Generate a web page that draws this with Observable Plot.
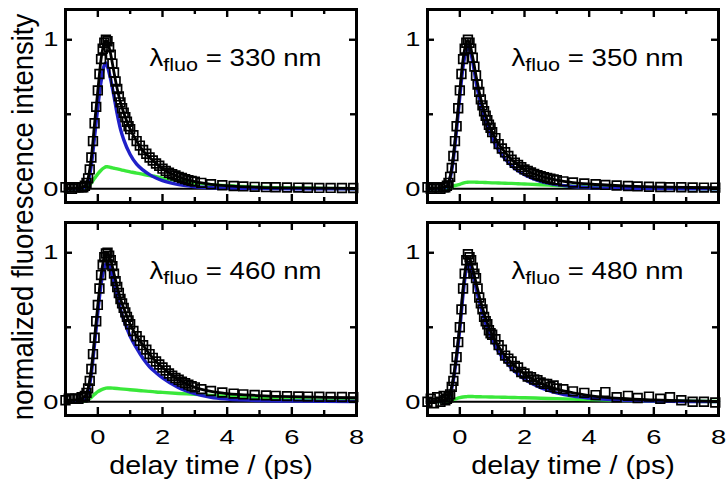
<!DOCTYPE html>
<html><head><meta charset="utf-8">
<script src="https://cdn.jsdelivr.net/npm/d3@7"></script>
<script src="https://cdn.jsdelivr.net/npm/@observablehq/plot@0.6"></script>
<style>
body{margin:0;background:#fff;}
#fig{position:relative;width:727px;height:486px;overflow:hidden;}
#fig svg{position:absolute;}
</style></head><body><div id="fig"></div>
<script>
// ---- data ----
const T = [
-1.0,-0.9,-0.8,-0.7,-0.6,-0.5,-0.45,-0.4,-0.35,-0.3,
-0.25,-0.2,-0.15,-0.1,-0.05,0,0.05,0.1,0.15,0.2,
0.25,0.3,0.35,0.4,0.45,0.5,0.55,0.6,0.65,0.7,
0.75,0.8,0.85,0.9,0.95,1.0,1.1,1.2,1.3,1.4,
1.5,1.6,1.7,1.8,1.9,2.0,2.1,2.2,2.3,2.4,
2.5,2.6,2.7,2.8,2.9,3.0,3.2,3.5,3.85,4.2,
4.5,4.85,5.2,5.5,5.85,6.2,6.5,6.85,7.2,7.55,
7.9];
const data330 = [
0.01,0.01,0.0,0.01,0.01,0.01,0.01,0.02,0.04,0.07,
0.13,0.21,0.32,0.44,0.55,0.66,0.77,0.87,0.94,0.98,
1.0,0.99,0.95,0.90,0.84,0.78,0.72,0.67,0.62,0.58,
0.54,0.51,0.48,0.45,0.42,0.40,0.36,0.32,0.29,0.26,
0.235,0.21,0.19,0.17,0.155,0.135,0.12,0.108,0.098,0.089,
0.08,0.072,0.065,0.058,0.053,0.048,0.04,0.031,0.024,0.019,
0.016,0.013,0.011,0.01,0.009,0.008,0.007,0.006,0.006,0.005,
0.005];
const data350 = [
0.01,0.0,0.01,0.01,0.0,0.01,0.01,0.02,0.04,0.08,
0.14,0.22,0.32,0.42,0.54,0.66,0.77,0.87,0.94,0.98,
1.0,0.98,0.94,0.88,0.82,0.76,0.70,0.65,0.60,0.56,
0.52,0.49,0.46,0.43,0.41,0.38,0.34,0.30,0.27,0.245,
0.22,0.195,0.175,0.16,0.145,0.13,0.12,0.11,0.10,0.092,
0.085,0.078,0.072,0.067,0.062,0.058,0.05,0.042,0.036,0.03,
0.026,0.022,0.019,0.016,0.014,0.012,0.011,0.01,0.009,0.008,
0.008];
const data460 = [
0.01,0.02,0.02,0.02,0.02,0.03,0.03,0.04,0.06,0.09,
0.14,0.22,0.32,0.43,0.54,0.65,0.76,0.85,0.92,0.97,
0.995,1.0,0.98,0.95,0.91,0.86,0.81,0.77,0.73,0.69,
0.66,0.63,0.60,0.57,0.545,0.52,0.475,0.44,0.41,0.38,
0.35,0.32,0.295,0.27,0.25,0.23,0.21,0.19,0.175,0.16,
0.148,0.135,0.125,0.115,0.105,0.097,0.085,0.072,0.062,0.055,
0.05,0.046,0.043,0.04,0.038,0.036,0.035,0.034,0.033,0.032,
0.031];
const data480 = [
0.0,0.02,-0.01,0.03,0.0,0.04,0.01,0.02,0.03,0.05,
0.1,0.14,0.22,0.3,0.4,0.5,0.62,0.76,0.86,0.95,
0.99,0.97,0.95,0.9,0.86,0.83,0.76,0.7,0.66,0.62,
0.57,0.54,0.52,0.48,0.46,0.45,0.42,0.38,0.35,0.31,
0.29,0.27,0.24,0.23,0.2,0.19,0.17,0.165,0.15,0.145,
0.13,0.12,0.12,0.1,0.11,0.09,0.085,0.07,0.06,0.045,
0.065,0.03,0.04,0.025,0.035,0.02,0.03,0.01,0.0,0.0,
-0.005];

const F = [
-1,-0.6,-0.5,-0.4,-0.3,-0.2,-0.1,0,0.1,0.2,
0.25,0.3,0.4,0.5,0.6,0.7,0.8,1.0,1.2,1.4,
1.6,1.8,2.0,2.5,3.0,3.5,4.0,5.0,6.0,7.0,
8.0];
const fit330 = [0.005,0.005,0.008,0.02,0.07,0.21,0.44,0.66,0.87,0.98,
0.995,0.985,0.9,0.78,0.67,0.58,0.51,0.40,0.32,0.255,
0.21,0.17,0.135,0.08,0.048,0.03,0.02,0.01,0.006,0.004,
0.003];
const blue330 = [0,0,0.003,0.012,0.05,0.16,0.35,0.55,0.72,0.83,
0.845,0.82,0.73,0.62,0.5,0.4,0.33,0.23,0.165,0.125,
0.095,0.072,0.055,0.028,0.014,0.007,0.004,0.001,0,0,
0];
const green330 = [0,0,0.001,0.004,0.015,0.04,0.07,0.1,0.125,0.142,
0.148,0.148,0.143,0.138,0.133,0.128,0.123,0.114,0.105,0.097,
0.089,0.082,0.072,0.055,0.04,0.028,0.02,0.01,0.005,0.003,
0.001];
const fit350 = [0.005,0.005,0.01,0.02,0.08,0.22,0.43,0.66,0.87,0.98,
0.995,0.98,0.88,0.76,0.65,0.56,0.49,0.38,0.30,0.245,
0.195,0.16,0.13,0.085,0.058,0.042,0.032,0.02,0.013,0.009,
0.007];
const blue350 = [0,0.003,0.006,0.015,0.07,0.2,0.4,0.62,0.82,0.93,
0.955,0.94,0.85,0.72,0.61,0.52,0.45,0.34,0.26,0.2,
0.155,0.12,0.095,0.05,0.028,0.015,0.008,0.003,0.001,0,
0];
const green350 = [0,0,0.001,0.004,0.01,0.018,0.024,0.03,0.038,0.043,
0.044,0.045,0.045,0.044,0.043,0.043,0.042,0.04,0.039,0.037,
0.036,0.034,0.032,0.027,0.022,0.017,0.013,0.007,0.003,0.001,
0];
const fit460 = [0.01,0.015,0.02,0.04,0.09,0.22,0.43,0.65,0.85,0.97,
0.99,0.995,0.95,0.86,0.77,0.69,0.63,0.52,0.44,0.38,
0.32,0.27,0.23,0.148,0.097,0.07,0.055,0.042,0.034,0.03,
0.027];
const blue460 = [0,0.003,0.008,0.025,0.07,0.19,0.39,0.6,0.79,0.9,
0.925,0.93,0.88,0.79,0.7,0.62,0.55,0.44,0.36,0.29,
0.235,0.195,0.16,0.095,0.055,0.03,0.018,0.008,0.005,0.003,
0.002];
const green460 = [0,0,0.002,0.006,0.015,0.03,0.05,0.068,0.08,0.089,
0.092,0.093,0.093,0.091,0.089,0.087,0.085,0.081,0.077,0.073,
0.07,0.066,0.063,0.056,0.05,0.043,0.037,0.025,0.016,0.01,
0.006];
const fit480 = [0.0,0.005,0.008,0.02,0.06,0.16,0.32,0.52,0.76,0.93,
0.965,0.96,0.89,0.8,0.71,0.63,0.56,0.45,0.37,0.31,
0.26,0.22,0.185,0.125,0.085,0.06,0.042,0.022,0.012,0.006,
0.003];
const blue480 = [0,0.004,0.007,0.017,0.05,0.145,0.3,0.49,0.72,0.895,
0.93,0.925,0.855,0.765,0.675,0.595,0.525,0.415,0.335,0.275,
0.225,0.185,0.152,0.095,0.06,0.038,0.025,0.011,0.005,0.002,
0.001];
const green480 = [0,0,0.001,0.003,0.008,0.015,0.022,0.028,0.032,0.034,
0.035,0.035,0.035,0.034,0.034,0.033,0.033,0.032,0.031,0.03,
0.029,0.028,0.027,0.024,0.021,0.018,0.015,0.01,0.006,0.004,
0.002];

const wavelengths = ["330", "350", "460", "480"];
const xMajor = [0, 2, 4, 6, 8];
const xMinor = [1, 3, 5, 7];
const yMajor = [0, 1];
const yMinor = [0.5];
const xTitle = "delay time / (ps)";
const yTitle = "normalized fluorescence intensity";

// ---- drawing ----
const FONT = "'Liberation Sans', Arial, Helvetica, sans-serif";
const BLUE = "#2020c8";
const GREEN = "#3ae83a";
const fig = document.getElementById("fig");

// widen glyphs horizontally about each text's own anchor (the reference text is wide)
function stretch(el, sx) {
  const x = +el.getAttribute("x") || 0;
  const tr = el.getAttribute("transform") || "";
  if (x) el.removeAttribute("x");
  el.setAttribute("transform", `${tr} translate(${x},0) scale(${sx},1)`);
}

function drawPanel(p) {
  const fw = p.width - p.ml - p.mr, fh = p.height - p.mt - p.mb;
  const pts = T.map((x, i) => ({x, y: p.data[i]}));
  const curve = arr => F.map((x, i) => ({x, y: arr[i]}));
  const tick = {stroke: "black", strokeWidth: 2.4};
  const svg = Plot.plot({
    width: p.width, height: p.height,
    marginLeft: p.ml, marginRight: p.mr, marginTop: p.mt, marginBottom: p.mb,
    style: {fontFamily: FONT, fontSize: "21px", color: "black", background: "transparent", overflow: "visible"},
    x: {domain: [-1, 8], ticks: xMajor, tickSize: 0, tickPadding: 14, tickFormat: d => String(d), label: null, axis: p.bottom ? "bottom" : null},
    y: {domain: [-0.092, 1.203], ticks: yMajor, tickSize: 0, tickPadding: 7, tickFormat: d => String(d), label: null, axis: "left"},
    marks: [
      Plot.ruleY([0], {stroke: "black", strokeWidth: 2}),
      Plot.line(curve(p.green), {x: "x", y: "y", stroke: GREEN, strokeWidth: 3.4, curve: "monotone-x"}),
      Plot.line(curve(p.blue), {x: "x", y: "y", stroke: BLUE, strokeWidth: 3.4, curve: "monotone-x"}),
      Plot.line(curve(p.fit), {x: "x", y: "y", stroke: "black", strokeWidth: 2.8, curve: "monotone-x"}),
      Plot.dot(pts, {x: "x", y: "y", symbol: "square", r: 4.9, stroke: "black", strokeWidth: 1.7, fill: "none"}),
      Plot.ruleX(xMajor, {...tick, insetTop: fh - 8}),
      Plot.ruleX(xMajor, {...tick, insetBottom: fh - 8}),
      Plot.ruleX(xMinor, {...tick, insetTop: fh - 5}),
      Plot.ruleX(xMinor, {...tick, insetBottom: fh - 5}),
      Plot.ruleY(yMajor, {...tick, insetRight: fw - 7}),
      Plot.ruleY(yMajor, {...tick, insetLeft: fw - 7}),
      Plot.ruleY(yMinor, {...tick, insetRight: fw - 6}),
      Plot.ruleY(yMinor, {...tick, insetLeft: fw - 6}),
      Plot.frame({stroke: "black", strokeWidth: 3}),
      Plot.text([p.lambda], {frameAnchor: "top-left", dx: 84, dy: 56, lineAnchor: "bottom", textAnchor: "start",
        fontSize: 23, fill: "black", text: d => `λfluo = ${d} nm`}),
      p.bottom ? Plot.text([xTitle], {frameAnchor: "bottom", dy: 58, lineAnchor: "bottom", fontSize: 26, fill: "black"}) : null
    ]
  });
  d3.select(svg).selectAll("text").each(function () {
    const s = this.textContent;
    if (s.startsWith("λfluo")) {
      const rest = s.slice(5);
      const el = d3.select(this);
      el.text(null);
      el.append("tspan").text("λ");
      el.append("tspan").attr("font-size", 18).attr("dy", 5).text("fluo");
      el.append("tspan").attr("dy", -5).text(rest);
      stretch(this, 1.2);
    } else if (s === xTitle) {
      stretch(this, 1.1);
    } else {
      stretch(this, 1.3);
    }
  });
  svg.style.left = p.left + "px";
  svg.style.top = p.top + "px";
  fig.appendChild(svg);
}

const layout = [
  {left: 0,   top: 0,   width: 360, height: 212, ml: 65, mr: 4, mt: 9,  mb: 10, bottom: false},
  {left: 400, top: 0,   width: 327, height: 212, ml: 27, mr: 9, mt: 9,  mb: 10, bottom: false},
  {left: 0,   top: 212, width: 360, height: 274, ml: 65, mr: 4, mt: 10, mb: 71, bottom: true},
  {left: 400, top: 212, width: 327, height: 274, ml: 27, mr: 9, mt: 10, mb: 71, bottom: true}
];
const series = [
  {data: data330, fit: fit330, blue: blue330, green: green330},
  {data: data350, fit: fit350, blue: blue350, green: green350},
  {data: data460, fit: fit460, blue: blue460, green: green460},
  {data: data480, fit: fit480, blue: blue480, green: green480}
];
layout.forEach((l, i) => drawPanel({...l, ...series[i], lambda: wavelengths[i]}));

const ov = d3.select(fig).append("svg").attr("width", 727).attr("height", 486)
  .style("left", "0px").style("top", "0px").style("pointer-events", "none");
ov.append("text")
  .attr("transform", "translate(33,217) scale(1.1,1) rotate(-90)")
  .attr("text-anchor", "middle")
  .attr("font-family", FONT).attr("font-size", 27.5).attr("fill", "black")
  .text(yTitle);
</script></body></html>
